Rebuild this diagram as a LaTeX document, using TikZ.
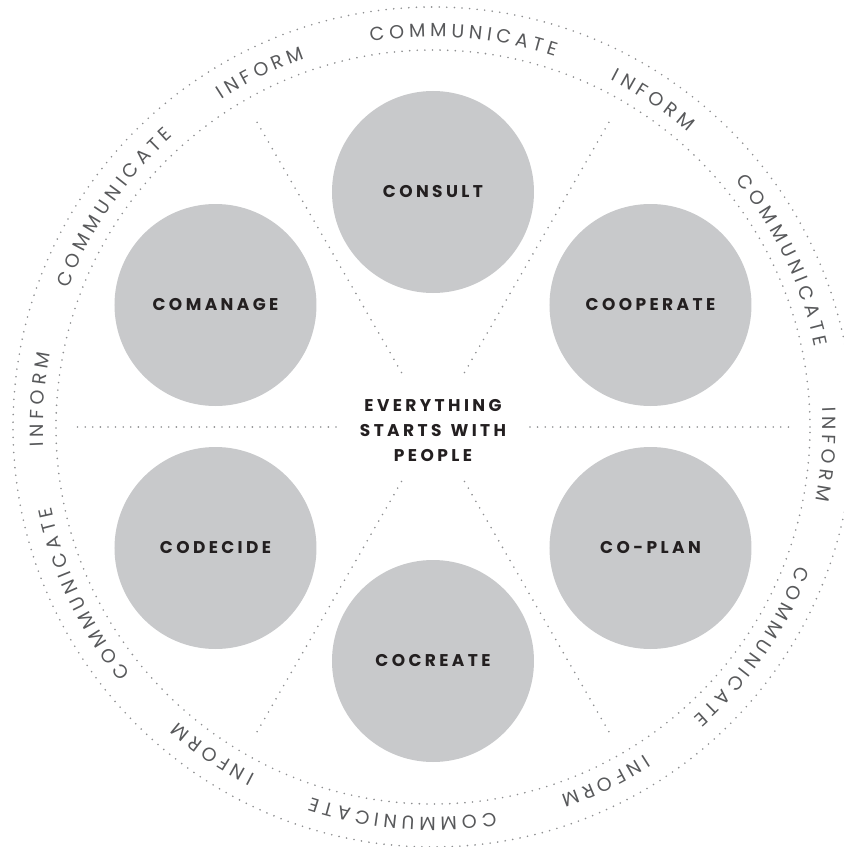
\documentclass[tikz,border=0pt]{standalone}
\usepackage{fontspec}
\setmainfont{Poppins}
\newfontfamily\labelfont[LetterSpace=20]{Poppins}
\newfontfamily\ringfont[WordSpace=0.9]{Poppins}
\usetikzlibrary{decorations.text}

\definecolor{bubblegray}{HTML}{C8C9CB}
\definecolor{dotgray}{HTML}{8E8F91}
\definecolor{ringgray}{HTML}{58595B}
\definecolor{labelblack}{HTML}{231F20}

\begin{document}
\begin{tikzpicture}[x=1pt,y=1pt]
	    \tikzstyle{every node}+=[inner sep=0pt]
	    \tikzstyle{bubble}=[circle, fill=bubblegray, minimum size=202pt, text=labelblack, font=\labelfont\bfseries\fontsize{17}{17}\selectfont]
	    \tikzstyle{dots}=[dotgray, line width=1.8pt, line cap=round, dash pattern=on 0pt off 7.6pt]
	    \tikzstyle{ringtext}=[decorate, decoration={text along path, text align=center, text color=ringgray}]
	    \useasboundingbox (-433,-420) rectangle (411,427);
	    % ring
	    \draw [dots] (0,0) circle (420);
	    \draw [dots] (0,0) circle (377);
	    % spokes
	    \draw [dots] (180:97) -- (180:361);
	    \draw [dots] (0:97) -- (0:361);
	    \draw [dots] (60:63) -- (60:357);
	    \draw [dots] (120:63) -- (120:357);
	    \draw [dots] (240:63) -- (240:357);
	    \draw [dots] (300:63) -- (300:357);
	    % bubbles
	    \node [bubble] (consult) at (0,235) {CONSULT};
	    \node [bubble] (cooperate) at (217.5,122) {COOPERATE};
	    \node [bubble] (coplan) at (217.5,-121) {CO-PLAN};
	    \node [bubble] (cocreate) at (0,-234) {COCREATE};
	    \node [bubble] (codecide) at (-217.5,-121) {CODECIDE};
	    \node [bubble] (comanage) at (-217.5,122) {COMANAGE};
	    \node [align=center, text=labelblack, font=\labelfont\bfseries\fontsize{17}{25}\selectfont] (people) at (0,-4) {EVERYTHING\\STARTS\hspace{2pt} WITH\\PEOPLE};
	    % words round the ring
	    \path [ringtext, decoration={text={|\ringfont\fontsize{19}{19}\selectfont|C O M M U N I C A T E}}] (125.5:390) arc [start angle=125.5, end angle=45.5, radius=390];
	    \path [ringtext, decoration={text={|\ringfont\fontsize{19}{19}\selectfont|I N F O R M}}] (96:390) arc [start angle=96, end angle=16, radius=390];
	    \path [ringtext, decoration={text={|\ringfont\fontsize{19}{19}\selectfont|C O M M U N I C A T E}}] (65.5:390) arc [start angle=65.5, end angle=-14.5, radius=390];
	    \path [ringtext, decoration={text={|\ringfont\fontsize{19}{19}\selectfont|I N F O R M}}] (36:390) arc [start angle=36, end angle=-44, radius=390];
	    \path [ringtext, decoration={text={|\ringfont\fontsize{19}{19}\selectfont|C O M M U N I C A T E}}] (5.5:390) arc [start angle=5.5, end angle=-74.5, radius=390];
	    \path [ringtext, decoration={text={|\ringfont\fontsize{19}{19}\selectfont|I N F O R M}}] (-24:390) arc [start angle=-24, end angle=-104, radius=390];
	    \path [ringtext, decoration={text={|\ringfont\fontsize{19}{19}\selectfont|C O M M U N I C A T E}}] (-54.5:390) arc [start angle=-54.5, end angle=-134.5, radius=390];
	    \path [ringtext, decoration={text={|\ringfont\fontsize{19}{19}\selectfont|I N F O R M}}] (-84:390) arc [start angle=-84, end angle=-164, radius=390];
	    \path [ringtext, decoration={text={|\ringfont\fontsize{19}{19}\selectfont|C O M M U N I C A T E}}] (-114.5:390) arc [start angle=-114.5, end angle=-194.5, radius=390];
	    \path [ringtext, decoration={text={|\ringfont\fontsize{19}{19}\selectfont|I N F O R M}}] (-144:390) arc [start angle=-144, end angle=-224, radius=390];
	    \path [ringtext, decoration={text={|\ringfont\fontsize{19}{19}\selectfont|C O M M U N I C A T E}}] (185.5:390) arc [start angle=185.5, end angle=105.5, radius=390];
	    \path [ringtext, decoration={text={|\ringfont\fontsize{19}{19}\selectfont|I N F O R M}}] (156:390) arc [start angle=156, end angle=76, radius=390];
\end{tikzpicture}
\end{document}
